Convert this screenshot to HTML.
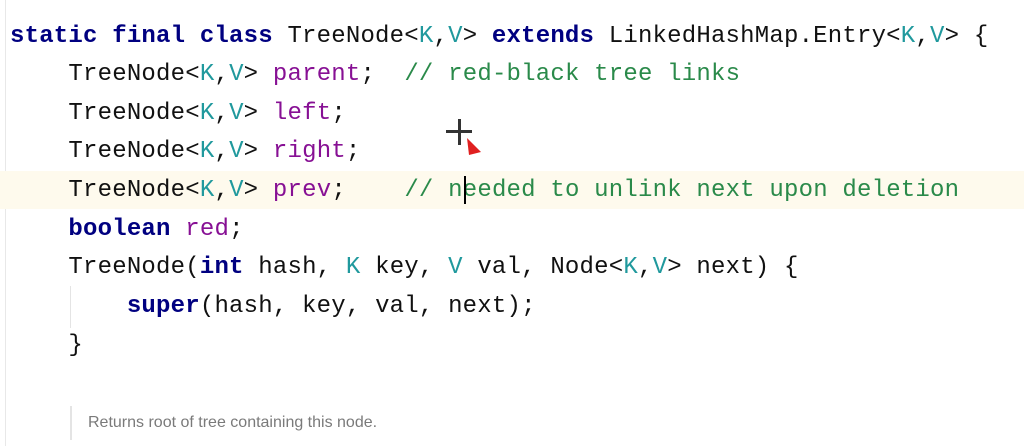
<!DOCTYPE html>
<html><head><meta charset="utf-8"><style>
body{margin:0;width:1024px;height:446px;background:#fff;position:relative;overflow:hidden;font-family:"Liberation Mono",monospace;}
.l{position:absolute;left:10px;font-size:24px;line-height:38px;white-space:pre;color:#111;letter-spacing:0.2px;}
.k{color:#000080;font-weight:bold}.t{color:#20999d}.f{color:#871094}.c{color:#2a8a4a}
.hl{position:absolute;left:0;top:171px;width:1024px;height:38px;background:#fefaed;}
</style></head><body>
<div style="position:absolute;left:5px;top:0;width:1px;height:446px;background:#e8e8e8"></div>
<div class="hl"></div>
<div style="position:absolute;left:70px;top:286px;width:1px;height:42px;background:#e4e4e4"></div>
<div class="l" style="top:18px"><span class="k">static final class</span> TreeNode&lt;<span class="t">K</span>,<span class="t">V</span>&gt; <span class="k">extends</span> LinkedHashMap.Entry&lt;<span class="t">K</span>,<span class="t">V</span>&gt; {</div>
<div class="l" style="top:56px">    TreeNode&lt;<span class="t">K</span>,<span class="t">V</span>&gt; <span class="f">parent</span>;  <span class="c">// red-black tree links</span></div>
<div class="l" style="top:95px">    TreeNode&lt;<span class="t">K</span>,<span class="t">V</span>&gt; <span class="f">left</span>;</div>
<div class="l" style="top:133px">    TreeNode&lt;<span class="t">K</span>,<span class="t">V</span>&gt; <span class="f">right</span>;</div>
<div class="l" style="top:172px">    TreeNode&lt;<span class="t">K</span>,<span class="t">V</span>&gt; <span class="f">prev</span>;    <span class="c">// needed to unlink next upon deletion</span></div>
<div class="l" style="top:211px">    <span class="k">boolean</span> <span class="f">red</span>;</div>
<div class="l" style="top:249px">    TreeNode(<span class="k">int</span> hash, <span class="t">K</span> key, <span class="t">V</span> val, Node&lt;<span class="t">K</span>,<span class="t">V</span>&gt; next) {</div>
<div class="l" style="top:288px">        <span class="k">super</span>(hash, key, val, next);</div>
<div class="l" style="top:327px">    }</div>
<div style="position:absolute;left:464px;top:176px;width:2px;height:28px;background:#000"></div>
<div style="position:absolute;left:446px;top:130px;width:26px;height:3px;background:#333"></div>
<div style="position:absolute;left:458px;top:119px;width:3px;height:26px;background:#333"></div>
<svg style="position:absolute;left:465px;top:138px" width="20" height="20"><polygon points="2,0 16,14 4,17" fill="#e02020"/></svg>
<div style="position:absolute;left:70px;top:406px;width:2px;height:34px;background:#e4e4e4"></div>
<div style="position:absolute;left:88px;top:414px;font-family:'Liberation Sans',sans-serif;font-size:16px;color:#7a7a7a">Returns root of tree containing this node.</div>
</body></html>
